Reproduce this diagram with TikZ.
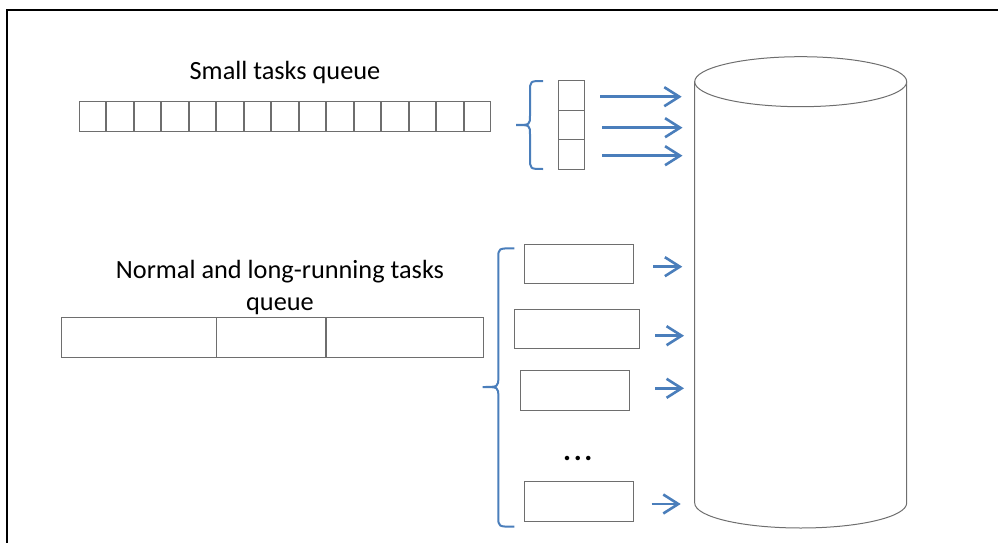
\documentclass[tikz,border=0pt]{standalone}
\usepackage{fontspec}
\setmainfont{Carlito}
\usetikzlibrary{arrows.meta}
\definecolor{officeblue}{HTML}{4A7EBB}
\definecolor{boxgray}{HTML}{6E6E6E}
\begin{document}
\begin{tikzpicture}[x=1pt,y=-1pt,
  cell/.style={draw=boxgray,line width=1pt,inner sep=0pt,minimum width=26.5pt,minimum height=30.5pt},
  task/.style={draw=boxgray,line width=1pt,inner sep=0pt},
  label/.style={font=\fontsize{26.3}{31.7}\selectfont,inner sep=0pt,align=center},
  feed/.style={officeblue,line width=2.6pt,-{Straight Barb[length=15pt,width=19pt,line width=2.6pt]}},
  brace/.style={officeblue,line width=2pt},
  drum/.style={draw=boxgray,line width=1pt}]
\useasboundingbox (0,0) rectangle (998,543);

% outer frame (open to the right and bottom)
\draw[line width=2pt] (7,543) -- (7,10.5) -- (998,10.5);

% small tasks queue
\node[label,anchor=base] (smalltitle) at (285,79.5) {Small tasks queue};
\foreach \i in {0,...,14}
  \node[cell] (q\i) at ({92.5+27.5*\i},116.3) {};

% batch of small tasks taken from the queue
\node[cell,minimum width=26pt,minimum height=29.5pt] (s1) at (571.3,95.5) {};
\node[cell,minimum width=26pt,minimum height=29.5pt] (s2) at (571.3,125) {};
\node[cell,minimum width=26pt,minimum height=29.5pt] (s3) at (571.3,154.5) {};
\draw[brace] (543,81) .. controls (530,81) .. (530,92) -- (530,115)
  .. controls (530,125) .. (516,125) .. controls (530,125) .. (530,135)
  -- (530,158) .. controls (530,169) .. (543,169);

% normal and long-running tasks queue (base anchor sits on the last line)
\node[label,anchor=base] (normaltitle) at (280,310) {Normal and long-running tasks\\queue};
\node[task,minimum width=155pt,minimum height=39.6pt] (n1) at (139.2,337.5) {};
\node[task,minimum width=108.3pt,minimum height=39.6pt] (n2) at (270.9,337.5) {};
\node[task,minimum width=156.6pt,minimum height=39.6pt] (n3) at (405,337.5) {};

% tasks being executed
\node[task,minimum width=109pt,minimum height=39pt] (t1) at (579.2,264.2) {};
\node[task,minimum width=124.7pt,minimum height=39.3pt] (t2) at (577.3,329.3) {};
\node[task,minimum width=109pt,minimum height=40pt] (t3) at (575.2,390.3) {};
\node[font=\fontsize{30}{30}\bfseries,inner sep=0pt,anchor=base] (dots) at (577.8,460) {.\kern2.6pt.\kern2.6pt.};
\node[task,minimum width=109pt,minimum height=40.3pt] (t4) at (579.2,501.8) {};
\draw[brace] (514.3,248.3) .. controls (498.3,248.3) .. (498.3,258) -- (498.3,377)
  .. controls (498.3,387) .. (482.7,387) .. controls (498.3,387) .. (498.3,397)
  -- (498.3,517) .. controls (498.3,526.7) .. (514.3,526.7);

% storage drum
\coordinate (dtl) at (694.7,81.7);
\coordinate (dtr) at (906.7,81.7);
\coordinate (dbl) at (694.7,503);
\coordinate (dbr) at (906.7,503);
\draw[drum] (800.7,81.7) ellipse [x radius=106,y radius=25];
\draw[drum] (dtl) -- (dbl) arc[start angle=180,end angle=360,x radius=106,y radius=-25] -- (dtr);

% feeding arrows
\coordinate (a1s) at (600,96.7);  \coordinate (a1e) at (681.7,96.7);
\coordinate (a2s) at (602,127.7); \coordinate (a2e) at (682.5,127.7);
\coordinate (a3s) at (602,155.7); \coordinate (a3e) at (682.5,155.7);
\coordinate (b1s) at (653.3,266.7); \coordinate (b1e) at (682.3,266.7);
\coordinate (b2s) at (655.3,335.7); \coordinate (b2e) at (684,335.7);
\coordinate (b3s) at (655.3,388.3); \coordinate (b3e) at (684,388.3);
\coordinate (b4s) at (651.7,504);   \coordinate (b4e) at (680.7,504);
\foreach \a in {a1,a2,a3,b1,b2,b3,b4}
  \draw[feed] (\a s) -- (\a e);
\end{tikzpicture}
\end{document}
